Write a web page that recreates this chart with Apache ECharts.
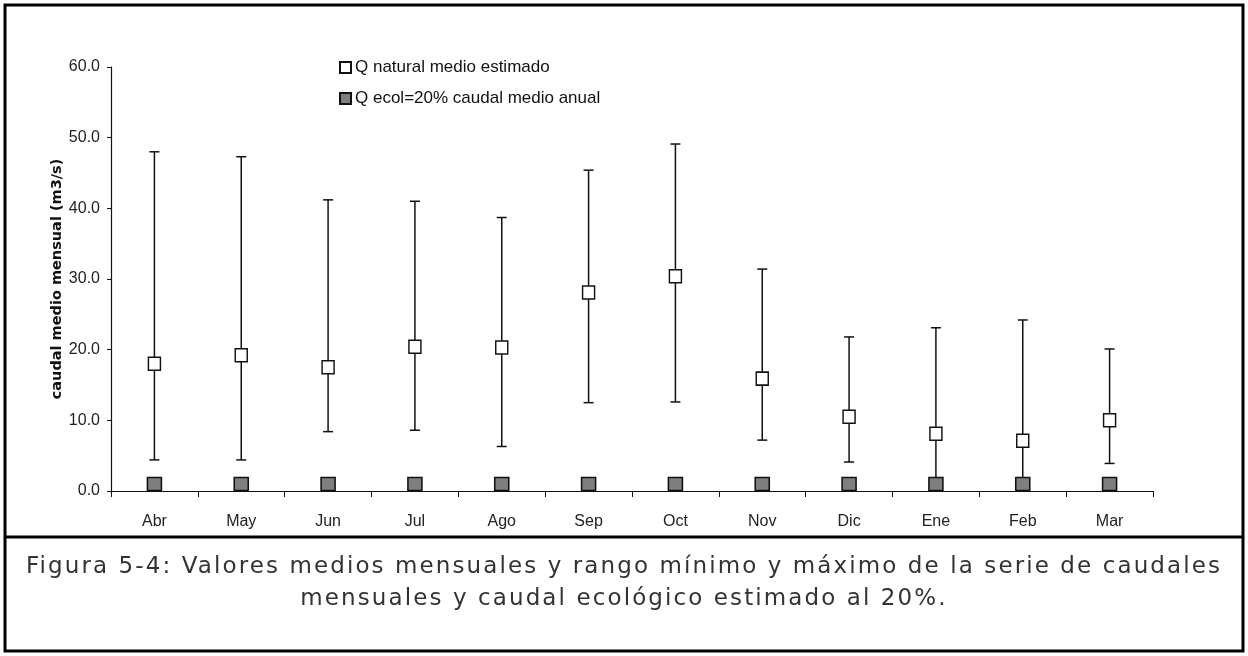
<!DOCTYPE html>
<html>
<head>
<meta charset="utf-8">
<script src="https://cdn.jsdelivr.net/npm/echarts@6/dist/echarts.min.js"></script>
<style>
  html, body { margin: 0; padding: 0; background: #fff; }
  #wrap { position: relative; width: 1248px; height: 656px; }
  #chart { position: absolute; left: 0; top: 0; width: 1248px; height: 656px; }
  #caption {
    position: absolute; left: 6px; width: 1236px; top: 549px;
    text-align: center; font-family: 'DejaVu Sans', sans-serif;
    font-size: 23px; line-height: 32px; color: #333; letter-spacing: 2.1px;
    font-weight: normal;
  }
</style>
</head>
<body>
<div id="wrap">
  <div id="chart"></div>
  <div id="caption">Figura 5-4: Valores medios mensuales y rango mínimo y máximo de la serie de caudales<br>mensuales y caudal ecológico estimado al 20%.</div>
</div>
<script>
// Months of the hydrological year
const months = ['Abr', 'May', 'Jun', 'Jul', 'Ago', 'Sep', 'Oct', 'Nov', 'Dic', 'Ene', 'Feb', 'Mar'];
// Estimated natural mean monthly flow (m3/s)
const meanFlow = [18.0, 19.2, 17.5, 20.4, 20.3, 28.1, 30.4, 15.9, 10.5, 8.1, 7.1, 10.0];
// Monthly maximum and minimum of the series
const maxFlow = [48.0, 47.3, 41.2, 41.0, 38.7, 45.4, 49.1, 31.4, 21.8, 23.1, 24.2, 20.1];
const minFlow = [4.4, 4.4, 8.4, 8.6, 6.3, 12.5, 12.6, 7.2, 4.1, 1.2, 1.2, 3.9];
// Ecological flow: 20% of annual mean
const ecolFlow = [1.0, 1.0, 1.0, 1.0, 1.0, 1.0, 1.0, 1.0, 1.0, 1.0, 1.0, 1.0];
// Y axis ticks
const yTicks = { min: 0, max: 60, interval: 10 };

const nameMean = 'Q natural medio estimado';
const nameEcol = 'Q ecol=20% caudal medio anual';
const narrow = "'Liberation Sans Narrow', 'Arial Narrow', 'Liberation Sans', sans-serif";

const rangeData = months.map((m, i) => [i, minFlow[i], maxFlow[i]]);

const chart = echarts.init(document.getElementById('chart'), null, { renderer: 'canvas' });
chart.setOption({
  backgroundColor: '#fff',
  animation: false,
  grid: { left: 111, right: 95, top: 67, bottom: 165 },
  legend: {
    orient: 'vertical', left: 334, top: 54, itemGap: 14,
    itemWidth: 11, itemHeight: 11,
    textStyle: { fontFamily: narrow, fontSize: 17, color: '#111', padding: [0, 0, 0, -1] },
    data: [
      { name: nameMean, icon: 'rect' },
      { name: nameEcol, icon: 'rect' }
    ]
  },
  xAxis: {
    type: 'category', data: months,
    axisLine: { lineStyle: { color: '#111', width: 1.2 } },
    axisTick: { show: true, length: 6, alignWithLabel: false, lineStyle: { color: '#111' } },
    axisLabel: { margin: 23, fontFamily: narrow, fontSize: 16, color: '#222' },
    splitLine: { show: false }
  },
  yAxis: {
    type: 'value', min: yTicks.min, max: yTicks.max, interval: yTicks.interval,
    name: 'caudal medio mensual (m3/s)', nameLocation: 'middle', nameGap: 46,
    nameMoveOverlap: false,
    nameTextStyle: { fontFamily: "'DejaVu Sans', sans-serif", fontWeight: 'bold', fontSize: 14.5, color: '#111' },
    axisLine: { show: true, lineStyle: { color: '#111', width: 1.2 } },
    axisTick: { show: true, inside: false, length: 4, lineStyle: { color: '#111' } },
    axisLabel: { margin: 11, fontFamily: narrow, fontSize: 16, color: '#222', formatter: v => v.toFixed(1) },
    splitLine: { show: false }
  },
  series: [
    {
      type: 'custom', name: 'rango', z: 1,
      data: rangeData,
      renderItem: function (params, api) {
        const x = api.value(0);
        const top = api.coord([x, api.value(2)]);
        const bot = api.coord([x, api.value(1)]);
        const hw = 5;
        const style = { stroke: '#111', lineWidth: 1.5 };
        return {
          type: 'group',
          children: [
            { type: 'line', shape: { x1: top[0], y1: top[1], x2: bot[0], y2: bot[1] }, style },
            { type: 'line', shape: { x1: top[0] - hw, y1: top[1], x2: top[0] + hw, y2: top[1] }, style },
            { type: 'line', shape: { x1: bot[0] - hw, y1: bot[1], x2: bot[0] + hw, y2: bot[1] }, style }
          ]
        };
      }
    },
    {
      type: 'scatter', name: nameEcol, z: 3,
      symbol: 'rect', symbolSize: [14, 13],
      itemStyle: { color: '#7f7f7f', borderColor: '#111', borderWidth: 1.5, opacity: 1 },
      data: ecolFlow
    },
    {
      type: 'scatter', name: nameMean, z: 4,
      symbol: 'rect', symbolSize: [12, 13],
      itemStyle: { color: '#fff', borderColor: '#111', borderWidth: 1.5, opacity: 1 },
      data: meanFlow
    }
  ],
  graphic: [
    { type: 'rect', shape: { x: 5, y: 5, width: 1238, height: 646 }, style: { fill: 'none', stroke: '#000', lineWidth: 3 }, z: 100 },
    { type: 'line', shape: { x1: 5, y1: 537, x2: 1243, y2: 537 }, style: { stroke: '#000', lineWidth: 3 }, z: 100 }
  ]
});
</script>
</body>
</html>
